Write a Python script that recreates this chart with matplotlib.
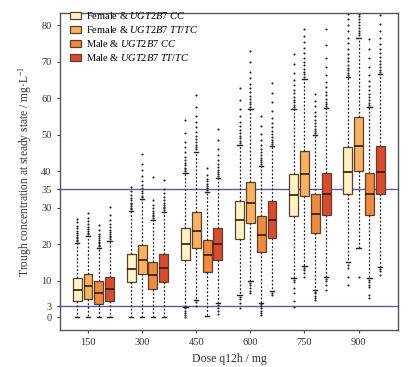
import matplotlib
matplotlib.use("Agg")
import matplotlib.pyplot as plt
from matplotlib.patches import Patch

plt.rcParams['font.family'] = ['Liberation Serif', 'DejaVu Serif']
plt.rcParams['mathtext.fontset'] = 'custom'
plt.rcParams['mathtext.rm'] = 'Liberation Serif'
plt.rcParams['mathtext.it'] = 'Liberation Serif:italic'

doses = ['150', '300', '450', '600', '750', '900']
group_labels = [r'Female & $\mathit{UGT2B7\ CC}$',
                r'Female & $\mathit{UGT2B7\ TT/TC}$',
                r'Male & $\mathit{UGT2B7\ CC}$',
                r'Male & $\mathit{UGT2B7\ TT/TC}$']
group_colors = ['#fdf3c4', '#f9b25e', '#f08a3c', '#dd4a2b']

# per group (rows) x dose (columns)
q1 = [[4.3, 9.6, 15.7, 21.5, 27.8, 33.7],
      [5.1, 11.8, 18.9, 25.9, 33.2, 40.1],
      [3.6, 7.8, 12.5, 17.9, 23.0, 28.0],
      [4.3, 9.7, 15.7, 21.6, 27.9, 33.7]]
med = [[7.5, 13.2, 20.0, 26.7, 33.4, 39.7],
       [8.6, 15.7, 23.7, 31.4, 39.3, 47.0],
       [6.6, 11.6, 16.9, 22.5, 28.3, 33.7],
       [7.6, 13.4, 20.0, 26.7, 33.7, 39.9]]
q3 = [[10.8, 17.3, 24.5, 31.9, 39.3, 46.5],
      [11.9, 19.9, 28.7, 37.0, 45.6, 54.8],
      [9.9, 15.2, 21.2, 27.6, 33.7, 39.6],
      [11.0, 17.3, 24.5, 31.9, 39.5, 46.9]]
whis_hi = [[20.3, 29.1, 39.5, 47.2, 57.0, 65.8],
           [22.3, 32.3, 45.4, 57.0, 65.3, 76.6],
           [18.9, 26.7, 34.4, 41.5, 50.0, 57.7],
           [21.0, 28.9, 38.1, 46.9, 57.3, 66.7]]
whis_lo = [[0.0, 0.0, 2.9, 6.1, 10.7, 15.0],
           [0.0, 0.0, 4.7, 9.8, 14.1, 18.9],
           [0.0, 0.0, 0.4, 4.0, 7.5, 10.7],
           [0.0, 0.0, 3.8, 7.2, 10.9, 13.7]]

out_hi = [
    [[20.8, 21.2, 21.6, 22.0, 22.5, 23.0, 23.6, 24.3, 25.0, 26.0, 27.0],
     [29.6, 30.0, 30.4, 30.9, 31.4, 32.0, 32.7, 33.5, 34.5, 35.8],
     [40.0, 40.5, 41.0, 41.6, 42.3, 43.0, 44.0, 45.2, 46.5, 48.0, 50.5, 54.0],
     [47.8, 48.4, 49.0, 49.7, 50.5, 51.4, 52.4, 53.5, 55.0, 57.0, 59.5, 62.9],
     [57.6, 58.2, 58.9, 59.6, 60.4, 61.3, 62.3, 63.5, 65.0, 67.0, 69.5, 72.0],
     [66.4, 67.0, 67.7, 68.4, 69.2, 70.1, 71.1, 72.2, 73.5, 75.0, 76.6, 78.3, 80.0, 81.8, 83.2]],
    [[22.8, 23.2, 23.7, 24.2, 24.8, 25.5, 26.3, 27.3, 28.5],
     [32.8, 33.3, 33.9, 34.6, 35.4, 36.3, 37.4, 38.7, 40.2, 42.0, 44.7],
     [46.0, 46.6, 47.3, 48.0, 48.8, 49.7, 50.8, 52.0, 53.5, 55.2, 57.5, 61.0],
     [57.6, 58.3, 59.0, 59.8, 60.7, 61.7, 62.8, 64.0, 65.5, 67.3, 69.8, 73.0],
     [65.9, 66.6, 67.3, 68.1, 69.0, 70.0, 71.1, 72.3, 73.7, 75.3, 77.0, 78.9],
     [77.2, 77.8, 78.5, 79.2, 80.0, 80.8, 81.6, 82.4, 83.2]],
    [[19.4, 19.8, 20.2, 20.6, 21.1, 21.6, 22.2, 22.9, 23.8, 25.3],
     [27.2, 27.6, 28.1, 28.6, 29.2, 29.9, 30.7, 32.1, 38.5],
     [34.9, 35.4, 35.9, 36.5, 37.2, 38.0, 39.0, 40.9],
     [42.0, 42.5, 43.1, 43.7, 44.4, 45.2, 46.1, 47.2, 48.5, 50.2, 52.5, 55.2],
     [50.5, 51.1, 51.7, 52.4, 53.2, 54.1, 55.1, 56.3, 57.8, 59.3, 61.1],
     [58.2, 58.8, 59.5, 60.3, 61.2, 62.2, 63.4, 64.8, 66.5, 68.5, 71.0, 73.5, 76.2]],
    [[21.5, 21.9, 22.3, 22.8, 23.3, 23.9, 24.6, 25.4, 26.5, 28.0, 30.3],
     [29.4, 29.8, 30.3, 30.8, 31.4, 32.1, 32.9, 33.9, 35.2, 37.6],
     [38.6, 39.1, 39.7, 40.4, 41.2, 42.1, 43.2, 44.5, 46.2, 48.5, 51.5],
     [47.4, 48.0, 48.6, 49.3, 50.1, 51.0, 52.0, 53.2, 54.7, 56.5, 59.0, 61.5, 64.3],
     [57.8, 58.4, 59.1, 59.9, 60.8, 61.8, 63.0, 64.5, 66.3, 68.5, 71.0, 74.5, 78.9],
     [67.2, 67.8, 68.5, 69.3, 70.2, 71.2, 72.3, 73.5, 74.9, 76.5, 78.3, 80.4, 82.8]],
]
out_lo = [
    [[], [], [2.4, 1.8, 1.2, 0.6, 0.1], [5.6, 5.0, 3.8, 2.6],
     [10.2, 9.6, 8.0, 6.5, 4.5, 2.9], [14.4, 13.6, 11.0, 8.8]],
    [[], [], [4.2, 3.0], [9.3, 8.7, 8.0, 7.3, 6.6], [13.6, 13.0, 12.2, 11.1], [11.1]],
    [[], [], [], [3.5, 3.0, 2.4, 1.8, 1.2, 0.6], [7.0, 6.5, 5.9, 5.3, 4.7],
     [10.2, 9.6, 8.9, 8.2, 6.0, 5.2]],
    [[], [], [3.3, 2.6, 1.8, 1.0], [6.7, 6.2], [10.4, 9.8, 8.9, 7.5], [13.2, 12.6, 11.6]],
]

ref_lines = [3, 35]
yticks = [0, 3, 10, 20, 30, 35, 40, 50, 60, 70, 80]

fig = plt.figure(figsize=(4.10, 3.67), dpi=100)
ax = fig.add_axes([0.146, 0.101, 0.825, 0.864])

offsets = [-0.2, 0.0, 0.2, 0.4]
box_w = 0.165
edge = '#5a4030'

for g in range(4):
    stats = []
    for d in range(len(doses)):
        stats.append(dict(q1=q1[g][d], med=med[g][d], q3=q3[g][d],
                          whislo=whis_lo[g][d], whishi=whis_hi[g][d],
                          fliers=out_hi[g][d] + out_lo[g][d]))
    pos = [d + offsets[g] for d in range(len(doses))]
    ax.bxp(stats, positions=pos, widths=box_w, patch_artist=True,
           showfliers=True, capwidths=0.08, manage_ticks=False,
           boxprops=dict(facecolor=group_colors[g], edgecolor=edge, linewidth=0.9),
           medianprops=dict(color='#2e1c0e', linewidth=1.2),
           whiskerprops=dict(color='#222222', linewidth=0.9, linestyle=(0, (1.5, 1.5))),
           capprops=dict(color='#222222', linewidth=1.0),
           flierprops=dict(marker='o', markersize=1.5, markerfacecolor='#222222',
                           markeredgewidth=0, linestyle='none'))

for yv in ref_lines:
    ax.axhline(yv, color='#5a5aa8', linewidth=1.0, zorder=0.5)

ax.set_xlim(-0.52, 5.73)
ax.set_ylim(-3.5, 83.4)
ax.set_xticks(range(len(doses)))
ax.set_xticklabels(doses)
ax.set_yticks(yticks)
ax.tick_params(axis='both', labelsize=7.5, length=2.5, width=0.8, colors='#444444',
               labelcolor='#333333')
for s in ax.spines.values():
    s.set_color('#555555')
    s.set_linewidth(1.0)

ax.set_xlabel('Dose q12h / mg', fontsize=8.5, color='#333333', labelpad=4)
ax.set_ylabel('Trough concentration at steady state / mg\u00b7L$^{-1}$', fontsize=8.3,
              color='#333333', labelpad=5)

handles = [Patch(facecolor=c, edgecolor=edge, linewidth=0.9) for c in group_colors]
ax.legend(handles, group_labels, loc='upper left', bbox_to_anchor=(0.025, 1.015),
          frameon=False, fontsize=7.5, handlelength=1.0, handleheight=0.7,
          handletextpad=0.5, labelspacing=0.28, borderaxespad=0.0, borderpad=0.2)

fig.savefig('out.png', dpi=100)
